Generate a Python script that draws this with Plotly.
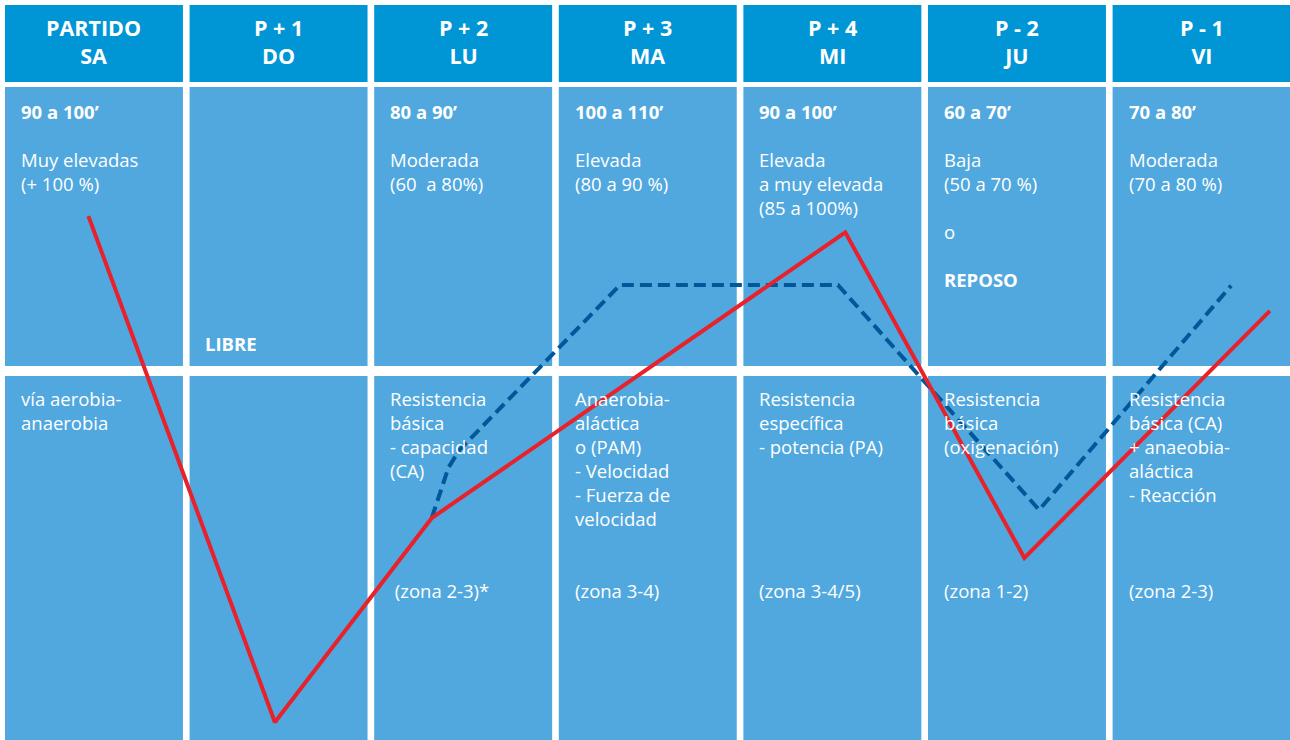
import plotly.graph_objects as go

# column headers (day relative to match)
headers = [["PARTIDO", "SA"], ["P + 1", "DO"], ["P + 2", "LU"], ["P + 3", "MA"],
           ["P + 4", "MI"], ["P - 2", "JU"], ["P - 1", "VI"]]

# duration / intensity block (row 1); "" = blank line
durations = ["90 a 100’", "", "80 a 90’", "100 a 110’", "90 a 100’", "60 a 70’", "70 a 80’"]
intensity = [
    ["Muy elevadas", "(+ 100 %)"],
    [],
    ["Moderada", "(60  a 80%)"],
    ["Elevada", "(80 a 90 %)"],
    ["Elevada", "a muy elevada", "(85 a 100%)"],
    ["Baja", "(50 a 70 %)", "", "o", "", "<b>REPOSO</b>"],
    ["Moderada", "(70 a 80 %)"],
]

# content block (row 2)
contents = [
    ["vía aerobia-", "anaerobia"],
    [],
    ["Resistencia", "básica", "- capacidad", "(CA)"],
    ["Anaerobia-", "aláctica", "o (PAM)", "- Velocidad", "- Fuerza de", "velocidad"],
    ["Resistencia", "específica", "- potencia (PA)"],
    ["Resistencia", "básica", "(oxigenación)"],
    ["Resistencia", "básica (CA)", "+ anaeobia-", "aláctica", "- Reacción"],
]
zones = ["", "", " (zona 2-3)*", "(zona 3-4)", "(zona 3-4/5)", "(zona 1-2)", "(zona 2-3)"]

# load curve (red) and alternative curve (dashed blue), x = day column, y = load 0-100
load_x = [-0.03, 0.98, 1.83, 4.07, 5.04, 6.37]
load_y = [70.8, 2.4, 30.0, 68.6, 24.6, 58.0]
alt_x = [1.83, 1.92, 1.98, 2.85, 4.03, 5.12, 6.16]
alt_y = [30.0, 36.8, 39.2, 61.5, 61.5, 31.1, 61.4]

HEAD = "#0096D6"
BODY = "#50A8DE"
W = 0.482          # half width of a cell in column units
PX = 184.6         # pixels per column
FONT = "Open Sans"
SIZE = 18.5        # line spacing 1.3 * 18.5 ~ 24 px


def ypix(px):
    # pixel row from top -> paper coordinate
    return 1 - px / 740


fig = go.Figure()

shapes = []
for i in range(len(headers)):
    for y0, y1, col in [(88.92, 99.32, HEAD), (50.54, 88.24, BODY), (-1, 49.19, BODY)]:
        shapes.append(dict(type="rect", xref="x", yref="y", x0=i - W, x1=i + W,
                           y0=y0, y1=y1, fillcolor=col, line_width=0, layer="below"))

annotations = []


def add_text(x, py, text, size=SIZE, anchor="left", yanchor="top"):
    annotations.append(dict(x=x, y=ypix(py), xref="x", yref="paper", text=text,
                            showarrow=False, xanchor=anchor, yanchor=yanchor, align=anchor,
                            font=dict(family=FONT, size=size, color="white")))


for i in range(len(headers)):
    add_text(i, 42, "<b>" + "<br>".join(headers[i]) + "</b>", size=21.5,
             anchor="center", yanchor="middle")
    left = i - W + 14 / PX
    if durations[i]:
        block = ["<b>" + durations[i] + "</b>", ""] + intensity[i]
        add_text(left, 112 - 15.2, "<br>".join(block))
    if contents[i]:
        add_text(left, 399 - 15.2, "<br>".join(contents[i]))
    if zones[i]:
        add_text(left, 592 - 2, zones[i], yanchor="middle")

add_text(1 - W + 13 / PX, 345 - 2, "<b>LIBRE</b>", yanchor="middle")

fig.add_trace(go.Scatter(x=alt_x, y=alt_y, mode="lines",
                         line=dict(color="#00589A", width=4, dash="12px,6px")))
fig.add_trace(go.Scatter(x=load_x, y=load_y, mode="lines",
                         line=dict(color="#E8212B", width=4)))

fig.update_layout(
    width=1290, height=740,
    margin=dict(l=0, r=0, t=0, b=0),
    paper_bgcolor="white", plot_bgcolor="white",
    showlegend=False,
    shapes=shapes, annotations=annotations,
    xaxis=dict(range=[-0.509, 6.479], visible=False, fixedrange=True),
    yaxis=dict(range=[0, 100], visible=False, fixedrange=True),
)

fig.write_html("out.html", config={"displayModeBar": False},
               post_script="document.body.style.margin='0';")
